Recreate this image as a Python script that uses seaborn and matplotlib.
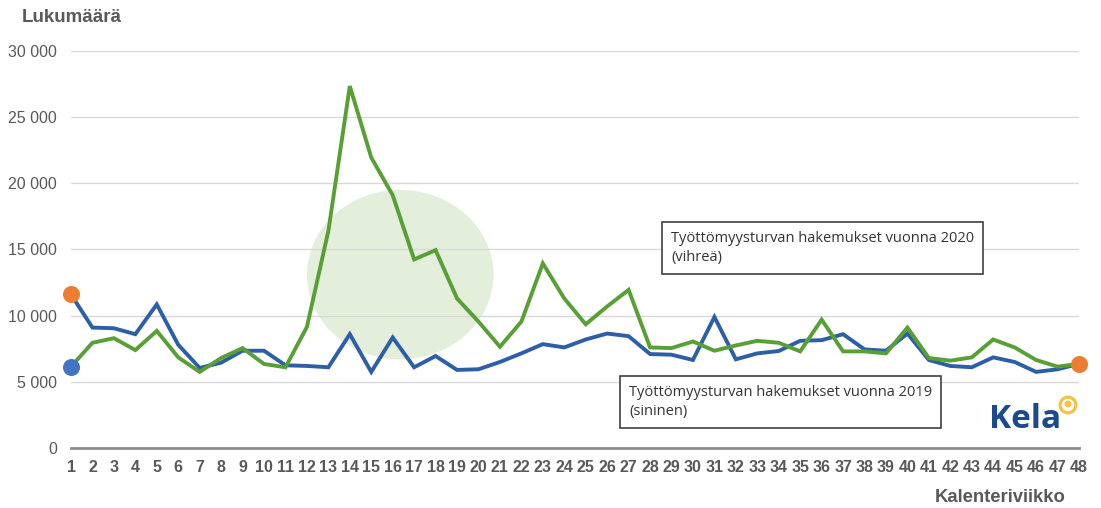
import matplotlib
matplotlib.use("Agg")
import matplotlib.pyplot as plt
from matplotlib.patches import Ellipse, Circle
from matplotlib.ticker import FuncFormatter
import seaborn as sns
import pandas as pd

weeks = list(range(1, 49))
hakemukset_2019 = [11600, 9100, 9050, 8600, 10850, 7800, 6050, 6450, 7350, 7350,
                   6250, 6200, 6100, 8600, 5750, 8350, 6100, 6950, 5900, 5950,
                   6500, 7150, 7850, 7600, 8200, 8650, 8450, 7100, 7050, 6650,
                   9900, 6700, 7150, 7330, 8100, 8150, 8600, 7450, 7350, 8650,
                   6650, 6200, 6100, 6850, 6500, 5750, 5950, 6350]
hakemukset_2020 = [6150, 7950, 8300, 7400, 8850, 6850, 5750, 6800, 7550, 6350,
                   6100, 9150, 16400, 27350, 21950, 19100, 14250, 14950, 11300, 9550,
                   7650, 9550, 13950, 11300, 9350, 10700, 11950, 7600, 7550, 8050,
                   7350, 7750, 8100, 7950, 7300, 9700, 7300, 7300, 7150, 9100,
                   6800, 6600, 6850, 8200, 7600, 6650, 6150, 6350]
y_ticks = [0, 5000, 10000, 15000, 20000, 25000, 30000]
label_2020 = "Työttömyysturvan hakemukset vuonna 2020\n(vihreä)"
label_2019 = "Työttömyysturvan hakemukset vuonna 2019\n(sininen)"

df = pd.DataFrame({"viikko": weeks * 2,
                   "lukumaara": hakemukset_2019 + hakemukset_2020,
                   "vuosi": ["2019"] * 48 + ["2020"] * 48})

sns.set_theme(style="white")
plt.rcParams['font.family'] = ['Liberation Sans', 'DejaVu Sans']

fig = plt.figure(figsize=(11.01, 5.08), dpi=100)
ax = fig.add_axes([71 / 1101, 1 - 448 / 508, (1079 - 71) / 1101, (448 - 51) / 508])

grey = "#595959"
green = "#58a035"
blue = "#2d5fa8"

# highlight ellipse
ax.add_patch(Ellipse((16.35, 13100), width=8.7, height=12800,
                     facecolor="#e3eedb", edgecolor="none", zorder=0.5))

sns.lineplot(data=df, x="viikko", y="lukumaara", hue="vuosi",
             palette={"2019": blue, "2020": green}, linewidth=2.8,
             legend=False, ax=ax, zorder=3)
for ln in ax.get_lines():
    ln.set_solid_joinstyle("miter")

# end markers
ax.scatter([weeks[0]], [hakemukset_2019[0]], s=150, color="#ed7d31", zorder=5, clip_on=False, linewidths=0)
ax.scatter([weeks[0]], [hakemukset_2020[0]], s=150, color="#4472c4", zorder=5, clip_on=False, linewidths=0)
ax.scatter([weeks[-1]], [hakemukset_2019[-1]], s=150, color="#ed7d31", zorder=5, clip_on=False, linewidths=0)

ax.set_xlim(1, 48)
ax.set_ylim(0, 30000)
ax.set_yticks(y_ticks)
ax.yaxis.set_major_formatter(FuncFormatter(lambda v, p: f"{int(v):,}".replace(",", " ")))
ax.set_xticks(weeks)
ax.set_xlabel("")
ax.set_ylabel("")
ax.grid(axis="y", color="#d9d9d9", linewidth=1.0)
ax.grid(axis="x", visible=False)
for s in ["top", "right", "left"]:
    ax.spines[s].set_visible(False)
ax.spines["bottom"].set_color("#8c8c8c")
ax.spines["bottom"].set_linewidth(2)
ax.spines["bottom"].set_zorder(4)
ax.tick_params(axis="y", length=0, pad=10, labelsize=11.5, labelcolor=grey)
ax.tick_params(axis="x", length=0, pad=9, labelsize=11.5, labelcolor=grey)
for t in ax.get_xticklabels():
    t.set_fontweight("bold")

# annotation boxes
box_kw = dict(boxstyle="square,pad=0.6", facecolor="white", edgecolor="#404040", linewidth=1.2)
fig.text(671 / 1101, 1 - 248 / 508, label_2020, fontsize=10.5, color="#333333",
         family=["Open Sans", "DejaVu Sans"], va="center", ha="left", bbox=box_kw,
         linespacing=1.35, zorder=6)
fig.text(629 / 1101, 1 - 402 / 508, label_2019, fontsize=10.5, color="#333333",
         family=["Open Sans", "DejaVu Sans"], va="center", ha="left", bbox=box_kw,
         linespacing=1.35, zorder=6)

# axis titles
fig.text(22 / 1101, 1 - 17 / 508, "Lukumäärä", fontsize=13.5, fontweight="bold",
         color=grey, va="center", ha="left")
fig.text(1066 / 1101, 1 - 497 / 508, "Kalenteriviikko", fontsize=13.3, fontweight="bold",
         color=grey, va="center", ha="right")

# Kela logo
fig.text(1025 / 1101, 1 - 420 / 508, "Kela", fontsize=24, fontweight="bold",
         color="#1b4b8c", va="center", ha="center", family=["Open Sans", "DejaVu Sans"])
logo = fig.add_axes([1058 / 1101, 1 - 415 / 508, 20 / 1101, 20 / 508])
logo.set_xlim(-1, 1)
logo.set_ylim(-1, 1)
logo.set_aspect("equal")
logo.axis("off")
logo.add_patch(Circle((0, 0), 0.95, facecolor="#f6c343", edgecolor="none"))
logo.add_patch(Circle((0, 0), 0.62, facecolor="white", edgecolor="none"))
logo.add_patch(Circle((0, 0.1), 0.35, facecolor="#f6c343", edgecolor="none"))

fig.savefig("out.png", dpi=100, facecolor="white")
